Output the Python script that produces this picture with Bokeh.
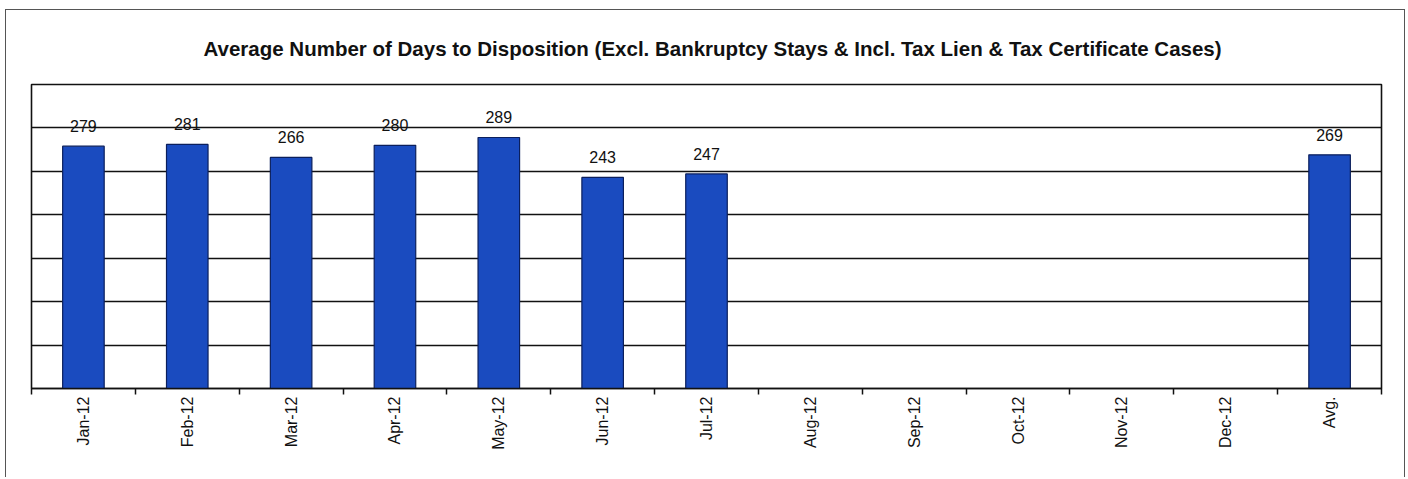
import math
from bokeh.plotting import figure
from bokeh.models import Range1d, FixedTicker, ColumnDataSource, LabelSet
from bokeh.core.properties import value
from bokeh.embed import file_html
from bokeh.resources import INLINE

TITLE = "Average Number of Days to Disposition  (Excl. Bankruptcy Stays & Incl. Tax Lien & Tax Certificate Cases)"
categories = ["Jan-12", "Feb-12", "Mar-12", "Apr-12", "May-12", "Jun-12", "Jul-12",
              "Aug-12", "Sep-12", "Oct-12", "Nov-12", "Dec-12", "Avg."]
days = [279, 281, 266, 280, 289, 243, 247, None, None, None, None, None, 269]
y_ticks = [50, 100, 150, 200, 250, 300]
y_max = 350

n = len(categories)
centers = [i + 0.5 for i in range(n)]
bounds = list(range(n + 1))

xs, tops, labels = [], [], []
for c, v in zip(centers, days):
    if v is not None:
        xs.append(c)
        tops.append(v)
        labels.append(str(v))
src = ColumnDataSource(dict(x=xs, top=tops, label=labels))

FONT = "Liberation Sans"

p = figure(width=1400, height=468, x_range=Range1d(0, n), y_range=Range1d(0, y_max),
           output_backend="svg", toolbar_location=None, title=TITLE,
           min_border_left=25, min_border_right=25, min_border_top=72, min_border_bottom=90)
p.styles = {"border-top": "1px solid #555", "border-left": "1px solid #555",
            "border-right": "1px solid #555", "margin": "9px 0 0 5px"}

p.title.align = "left"
p.title.offset = 172
p.title.text_font = FONT
p.title.text_font_style = "bold"
p.title.text_font_size = "20.5px"
p.title.text_color = "#111111"
p.title.standoff = 49

p.vbar(x="x", top="top", width=0.4, source=src, fill_color="#1a4bbf",
       line_color="#0b1f5c", line_width=1.2)

p.add_layout(LabelSet(x="x", y="top", text="label", source=src, y_offset=14,
                      text_align="center", text_baseline="alphabetic",
                      text_font=value(FONT), text_font_size=value("16px"),
                      text_color="#111111"))

p.yaxis.visible = False
p.xgrid.visible = False
p.ygrid.ticker = FixedTicker(ticks=y_ticks)
p.ygrid.grid_line_color = "#111111"
p.ygrid.grid_line_width = 1.6

p.outline_line_color = "#111111"
p.outline_line_width = 1.6
p.outline_line_alpha = 1.0

ax = p.xaxis[0]
ax.ticker = FixedTicker(ticks=centers, minor_ticks=bounds)
ax.major_label_overrides = {c: lab for c, lab in zip(centers, categories)}
ax.major_tick_out = 0
ax.major_tick_in = 0
ax.minor_tick_out = 6
ax.minor_tick_in = 0
ax.minor_tick_line_color = "#111111"
ax.minor_tick_line_width = 1.5
ax.axis_line_color = "#111111"
ax.axis_line_width = 1.6
ax.major_label_orientation = math.pi / 2
ax.major_label_standoff = 2
ax.major_label_text_font = FONT
ax.major_label_text_font_size = "16px"
ax.major_label_text_color = "#111111"

p.background_fill_color = "white"
p.border_fill_color = "white"

open("out.html", "w").write(file_html(p, INLINE))
